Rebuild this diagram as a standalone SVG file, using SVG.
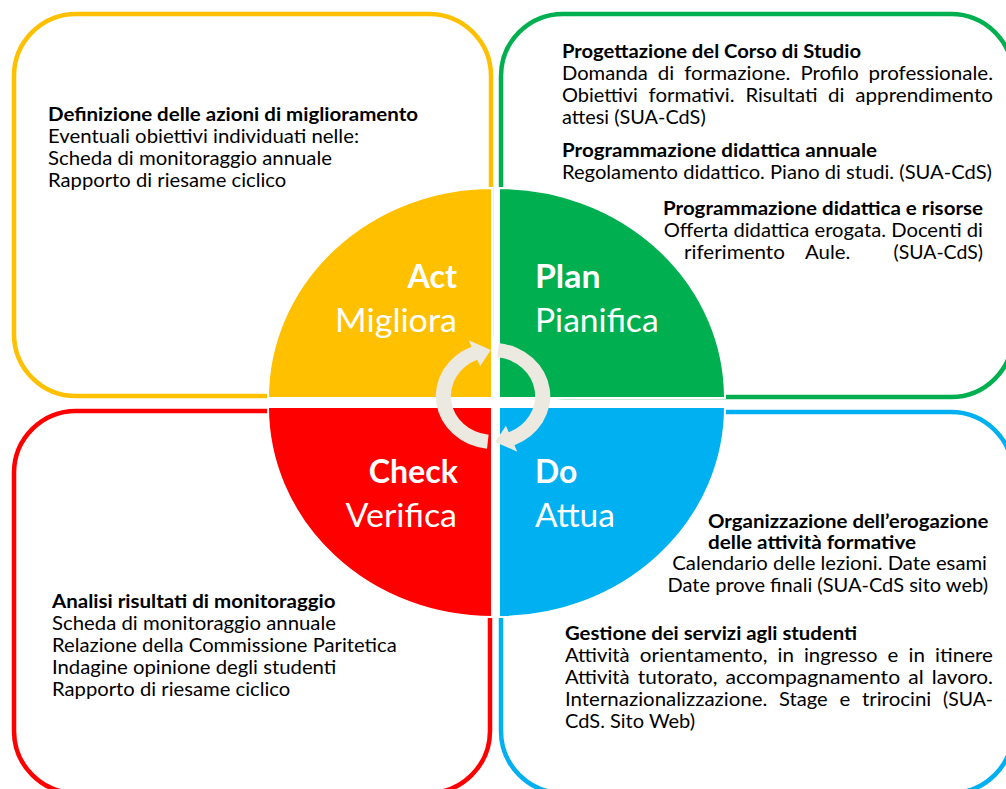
<svg xmlns="http://www.w3.org/2000/svg" xmlns:xlink="http://www.w3.org/1999/xlink" width="1006" height="789" viewBox="0 0 1006 789">
<style>
.box{fill:none;stroke-width:4.5}
.q{stroke:#fff;stroke-width:2}
.t{font-family:Lato,"Liberation Sans",sans-serif;font-size:19px;fill:#000}
.b{font-weight:700}
.big{font-family:Lato,"Liberation Sans",sans-serif;font-size:32px;fill:#fff}
</style>
<defs>
<path id="arc" d="M -5.54 52.71 A 53 53 0 0 1 -19.85 -49.14 L -22.48 -55.63 L -2 -46 L -11.99 -29.67 L -14.61 -36.16 A 39 39 0 0 0 -4.08 38.79 Z" fill="#ECE9E0"/>
</defs>
<rect width="1006" height="789" fill="#fff"/>

<g id="act">
<rect class="box" x="14" y="14" width="477" height="382" rx="62" ry="62" stroke="#FFC000"/>
<path class="q" d="M 492 398 L 268 398 A 224 210 0 0 1 492 188 Z" fill="#FFC000"/>
<text class="big b" x="407.4" y="288" textLength="49.6" lengthAdjust="spacingAndGlyphs">Act</text>
<text class="big" x="335.1" y="332" textLength="121.9" lengthAdjust="spacingAndGlyphs">Migliora</text>
<text class="t b" x="48" y="121" textLength="370" lengthAdjust="spacingAndGlyphs">Definizione delle azioni di miglioramento</text>
<text class="t" x="48" y="143" textLength="311" lengthAdjust="spacingAndGlyphs">Eventuali obiettivi individuati nelle:</text>
<text class="t" x="48" y="165" textLength="284" lengthAdjust="spacingAndGlyphs">Scheda di monitoraggio annuale</text>
<text class="t" x="48" y="187" textLength="238.3" lengthAdjust="spacingAndGlyphs">Rapporto di riesame ciclico</text>
</g>

<g id="plan">
<rect class="box" x="501" y="14" width="512" height="383" rx="62" ry="62" stroke="#00B050"/>
<path class="q" d="M 499 398 L 499 188 A 226 210 0 0 1 725 398 Z" fill="#00B050"/>
<text class="big b" x="535" y="288" textLength="65.5" lengthAdjust="spacingAndGlyphs">Plan</text>
<text class="big" x="535" y="332" textLength="123.6" lengthAdjust="spacingAndGlyphs">Pianifica</text>
<text class="t b" x="562" y="58" textLength="299" lengthAdjust="spacingAndGlyphs">Progettazione del Corso di Studio</text>
<text class="t" x="562" y="80" textLength="85.8" lengthAdjust="spacingAndGlyphs">Domanda</text>
<text class="t" x="657.8" y="80" textLength="16.4" lengthAdjust="spacingAndGlyphs">di</text>
<text class="t" x="684.2" y="80" textLength="106.2" lengthAdjust="spacingAndGlyphs">formazione.</text>
<text class="t" x="800.4" y="80" textLength="58.3" lengthAdjust="spacingAndGlyphs">Profilo</text>
<text class="t" x="868.6" y="80" textLength="124.4" lengthAdjust="spacingAndGlyphs">professionale.</text>
<text class="t" x="562" y="102" textLength="75.9" lengthAdjust="spacingAndGlyphs">Obiettivi</text>
<text class="t" x="648.6" y="102" textLength="86" lengthAdjust="spacingAndGlyphs">formativi.</text>
<text class="t" x="745.4" y="102" textLength="72" lengthAdjust="spacingAndGlyphs">Risultati</text>
<text class="t" x="828.1" y="102" textLength="16.4" lengthAdjust="spacingAndGlyphs">di</text>
<text class="t" x="855.3" y="102" textLength="137.7" lengthAdjust="spacingAndGlyphs">apprendimento</text>
<text class="t" x="562" y="124" textLength="143.7" lengthAdjust="spacingAndGlyphs">attesi (SUA-CdS)</text>
<text class="t b" x="562" y="157" textLength="315" lengthAdjust="spacingAndGlyphs">Programmazione didattica annuale</text>
<text class="t" x="562" y="179" textLength="430" lengthAdjust="spacingAndGlyphs">Regolamento didattico. Piano di studi. (SUA-CdS)</text>
<text class="t b" x="663" y="215" textLength="320" lengthAdjust="spacingAndGlyphs">Programmazione didattica e risorse</text>
<text class="t" x="663.7" y="237" textLength="319.3" lengthAdjust="spacingAndGlyphs">Offerta didattica erogata. Docenti di</text>
<text class="t" x="684" y="259" textLength="100.9" lengthAdjust="spacingAndGlyphs">riferimento</text>
<text class="t" x="805" y="259" textLength="45.3" lengthAdjust="spacingAndGlyphs">Aule.</text>
<text class="t" x="893.5" y="259" textLength="89.5" lengthAdjust="spacingAndGlyphs">(SUA-CdS)</text>
</g>

<g id="check">
<rect class="box" x="14" y="411" width="476" height="382" rx="62" ry="62" stroke="#FF0000"/>
<path class="q" d="M 492 407 L 492 617 A 224 210 0 0 1 268 407 Z" fill="#FF0000"/>
<text class="big b" x="368.7" y="483" textLength="89.3" lengthAdjust="spacingAndGlyphs">Check</text>
<text class="big" x="345.5" y="527" textLength="111.5" lengthAdjust="spacingAndGlyphs">Verifica</text>
<text class="t b" x="52" y="608" textLength="283.6" lengthAdjust="spacingAndGlyphs">Analisi risultati di monitoraggio</text>
<text class="t" x="52" y="630" textLength="284" lengthAdjust="spacingAndGlyphs">Scheda di monitoraggio annuale</text>
<text class="t" x="52" y="652" textLength="344.7" lengthAdjust="spacingAndGlyphs">Relazione della Commissione Paritetica</text>
<text class="t" x="52" y="674" textLength="284.3" lengthAdjust="spacingAndGlyphs">Indagine opinione degli studenti</text>
<text class="t" x="52" y="696" textLength="238.3" lengthAdjust="spacingAndGlyphs">Rapporto di riesame ciclico</text>
</g>

<g id="do">
<rect class="box" x="501" y="412" width="512" height="381" rx="62" ry="62" stroke="#00B0F0"/>
<path class="q" d="M 499 407 L 725 407 A 226 210 0 0 1 499 617 Z" fill="#00B0F0"/>
<text class="big b" x="535" y="483" textLength="42.3" lengthAdjust="spacingAndGlyphs">Do</text>
<text class="big" x="535" y="527" textLength="80" lengthAdjust="spacingAndGlyphs">Attua</text>
<text class="t b" x="708" y="528" textLength="280.5" lengthAdjust="spacingAndGlyphs">Organizzazione dell’erogazione</text>
<text class="t b" x="708" y="549" textLength="208" lengthAdjust="spacingAndGlyphs">delle attività formative</text>
<text class="t" x="672.3" y="570" textLength="314.7" lengthAdjust="spacingAndGlyphs">Calendario delle lezioni. Date esami</text>
<text class="t" x="667.6" y="592" textLength="320.4" lengthAdjust="spacingAndGlyphs">Date prove finali (SUA-CdS sito web)</text>
<text class="t b" x="565" y="639.5" textLength="292" lengthAdjust="spacingAndGlyphs">Gestione dei servizi agli studenti</text>
<text class="t" x="565" y="661.5" textLength="64.6" lengthAdjust="spacingAndGlyphs">Attività</text>
<text class="t" x="639.7" y="661.5" textLength="127.7" lengthAdjust="spacingAndGlyphs">orientamento,</text>
<text class="t" x="777.5" y="661.5" textLength="16.4" lengthAdjust="spacingAndGlyphs">in</text>
<text class="t" x="804" y="661.5" textLength="73.5" lengthAdjust="spacingAndGlyphs">ingresso</text>
<text class="t" x="887.6" y="661.5" textLength="10.8" lengthAdjust="spacingAndGlyphs">e</text>
<text class="t" x="908.5" y="661.5" textLength="16.4" lengthAdjust="spacingAndGlyphs">in</text>
<text class="t" x="935.1" y="661.5" textLength="57.9" lengthAdjust="spacingAndGlyphs">itinere</text>
<text class="t" x="565" y="683.5" textLength="64.6" lengthAdjust="spacingAndGlyphs">Attività</text>
<text class="t" x="637.8" y="683.5" textLength="79.6" lengthAdjust="spacingAndGlyphs">tutorato,</text>
<text class="t" x="725.5" y="683.5" textLength="174.6" lengthAdjust="spacingAndGlyphs">accompagnamento</text>
<text class="t" x="908.3" y="683.5" textLength="15.4" lengthAdjust="spacingAndGlyphs">al</text>
<text class="t" x="931.8" y="683.5" textLength="61.2" lengthAdjust="spacingAndGlyphs">lavoro.</text>
<text class="t" x="565" y="705.5" textLength="202.3" lengthAdjust="spacingAndGlyphs">Internazionalizzazione.</text>
<text class="t" x="779" y="705.5" textLength="48.7" lengthAdjust="spacingAndGlyphs">Stage</text>
<text class="t" x="839.4" y="705.5" textLength="10.8" lengthAdjust="spacingAndGlyphs">e</text>
<text class="t" x="861.9" y="705.5" textLength="69.4" lengthAdjust="spacingAndGlyphs">trirocini</text>
<text class="t" x="943" y="705.5" textLength="50" lengthAdjust="spacingAndGlyphs">(SUA-</text>
<text class="t" x="565" y="727.5" textLength="130.1" lengthAdjust="spacingAndGlyphs">CdS. Sito Web)</text>
</g>

<g id="connectors" transform="translate(493,396) scale(1.08,1)">
<use xlink:href="#arc"/>
<use xlink:href="#arc" transform="rotate(180)"/>
</g>
</svg>
